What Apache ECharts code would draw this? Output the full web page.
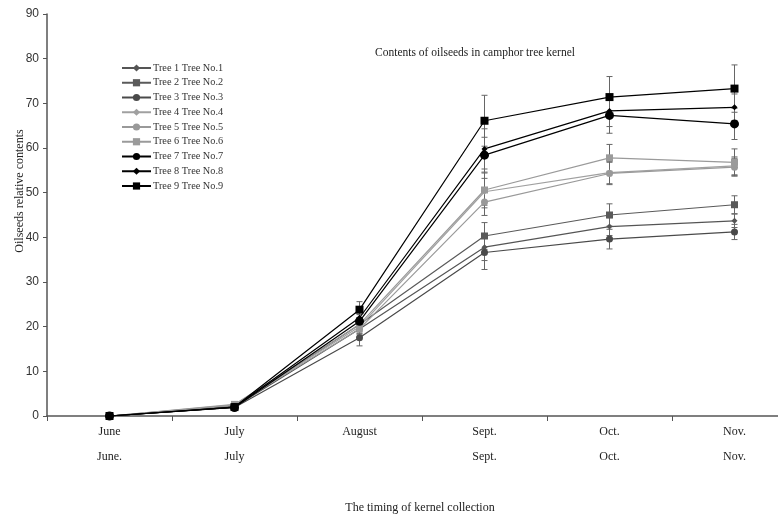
<!DOCTYPE html>
<html>
<head>
<meta charset="utf-8">
<script src="https://cdn.jsdelivr.net/npm/echarts@6/dist/echarts.min.js"></script>
<style>html,body{margin:0;padding:0;background:#fff;}#c{width:778px;height:517px;}</style>
</head>
<body>
<div id="c"></div>
<script>
const categories = ['June', 'July', 'August', 'Sept.', 'Oct.', 'Nov.'];
const categories2 = ['June.', 'July', '', 'Sept.', 'Oct.', 'Nov.'];
const yTicks = [0, 10, 20, 30, 40, 50, 60, 70, 80, 90];
const names = ['Tree 1 Tree No.1','Tree 2 Tree No.2','Tree 3 Tree No.3','Tree 4 Tree No.4','Tree 5 Tree No.5','Tree 6 Tree No.6','Tree 7 Tree No.7','Tree 8 Tree No.8','Tree 9 Tree No.9'];
const tree1 = [0, 2.0, 19.5, 37.8, 42.4, 43.7];
const tree2 = [0, 2.2, 20.5, 40.3, 45.0, 47.3];
const tree3 = [0, 1.9, 17.5, 36.6, 39.6, 41.2];
const tree4 = [0, 2.5, 20.0, 50.2, 54.5, 56.0];
const tree5 = [0, 2.4, 19.5, 47.9, 54.3, 55.7];
const tree6 = [0, 2.6, 20.5, 50.6, 57.8, 56.8];
const tree7 = [0, 1.9, 21.2, 58.4, 67.3, 65.4];
const tree8 = [0, 2.0, 22.0, 59.8, 68.3, 69.1];
const tree9 = [0, 2.0, 23.8, 66.1, 71.4, 73.3];
const err1 = [0, 0.3, 1.0, 3.0, 2.0, 1.5];
const err2 = [0, 0.3, 1.2, 3.0, 2.5, 2.0];
const err3 = [0, 0.3, 1.8, 3.8, 2.2, 1.7];
const err4 = [0, 0.3, 1.2, 3.0, 2.5, 2.0];
const err5 = [0, 0.3, 1.2, 3.0, 2.5, 2.0];
const err6 = [0, 0.3, 1.5, 4.0, 3.0, 3.0];
const err7 = [0, 0.3, 1.5, 4.0, 4.0, 3.5];
const err8 = [0, 0.3, 1.5, 4.5, 3.5, 3.0];
const err9 = [0, 0.3, 1.8, 5.7, 4.6, 5.3];

const values = [tree1, tree2, tree3, tree4, tree5, tree6, tree7, tree8, tree9];
const errs = [err1, err2, err3, err4, err5, err6, err7, err8, err9];
const colors = ['#555555','#5a5a5a','#4a4a4a','#a0a0a0','#999999','#9a9a9a','#000000','#000000','#000000'];
const symbols = ['diamond','rect','circle','diamond','circle','rect','circle','diamond','rect'];
const sizes = [6, 7, 7, 6, 7, 7, 9, 6, 8];

const serif = '"Liberation Serif", "DejaVu Serif", serif';
const sans = '"Liberation Sans", Arial, sans-serif';

const errData = [];
errs.forEach((e, s) => e.forEach((v, i) => { if (v > 0) errData.push([i, values[s][i], v]); }));

const series = [{
  type: 'custom',
  name: 'err',
  silent: true,
  z: 1,
  renderItem: function (params, api) {
    const x = api.value(0), y = api.value(1), e = api.value(2);
    const top = api.coord([x, y + e]);
    const bot = api.coord([x, y - e]);
    const w = 3;
    const st = { stroke: '#666', lineWidth: 1 };
    return { type: 'group', children: [
      { type: 'line', shape: { x1: top[0], y1: top[1], x2: bot[0], y2: bot[1] }, style: st },
      { type: 'line', shape: { x1: top[0] - w, y1: top[1], x2: top[0] + w, y2: top[1] }, style: st },
      { type: 'line', shape: { x1: bot[0] - w, y1: bot[1], x2: bot[0] + w, y2: bot[1] }, style: st }
    ]};
  },
  encode: { x: 0, y: 1 },
  data: errData
}];
values.forEach((v, i) => {
  series.push({
    type: 'line', name: names[i], data: v, z: 2 + i,
    symbol: symbols[i], symbolSize: sizes[i], showSymbol: true,
    lineStyle: { color: colors[i], width: 1.2 },
    itemStyle: { color: colors[i] },
    emphasis: { disabled: true }
  });
});

const chart = echarts.init(document.getElementById('c'), null, { renderer: 'canvas' });
chart.setOption({
  animation: false,
  backgroundColor: '#fff',
  title: {
    text: 'Contents of oilseeds in camphor tree kernel',
    left: 470, top: 42, textAlign: 'center',
    textStyle: { fontFamily: serif, fontSize: 11.5, fontWeight: 'normal', color: '#222' }
  },
  legend: {
    orient: 'vertical', left: 116, top: 58,
    itemWidth: 29, itemHeight: 9, itemGap: 4.75,
    data: names,
    textStyle: { fontFamily: serif, fontSize: 10.3, color: '#333', padding: [0,0,0,-3] }
  },
  grid: { left: 47, top: 14, width: 750, height: 402, outerBoundsMode: 'none' },
  xAxis: {
    type: 'category', data: categories, boundaryGap: true,
    axisLine: { lineStyle: { color: '#555', width: 1.5 } },
    axisTick: { show: true, length: 5, interval: 0, lineStyle: { color: '#555' } },
    axisLabel: {
      interval: 0, margin: 3, lineHeight: 25,
      fontFamily: serif, fontSize: 12, color: '#222',
      formatter: function (val, idx) { return val + '\n' + categories2[idx]; }
    }
  },
  yAxis: {
    type: 'value', min: yTicks[0], max: yTicks[yTicks.length - 1], interval: 10,
    axisLine: { show: true, lineStyle: { color: '#555', width: 1.5 } },
    axisTick: { show: true, length: 4, lineStyle: { color: '#555' } },
    splitLine: { show: false },
    axisLabel: { fontFamily: sans, fontSize: 12, color: '#333', margin: 8 }
  },
  graphic: [
    { type: 'text', x: 20, y: 191, rotation: Math.PI / 2,
      style: { text: 'Oilseeds relative contents', fontFamily: serif, fontSize: 12, fill: '#222', align: 'center', verticalAlign: 'middle' } },
    { type: 'text', x: 420, y: 508,
      style: { text: 'The timing of kernel collection', fontFamily: serif, fontSize: 12, fill: '#222', align: 'center', verticalAlign: 'middle' } }
  ],
  series: series
});
</script>
</body>
</html>
